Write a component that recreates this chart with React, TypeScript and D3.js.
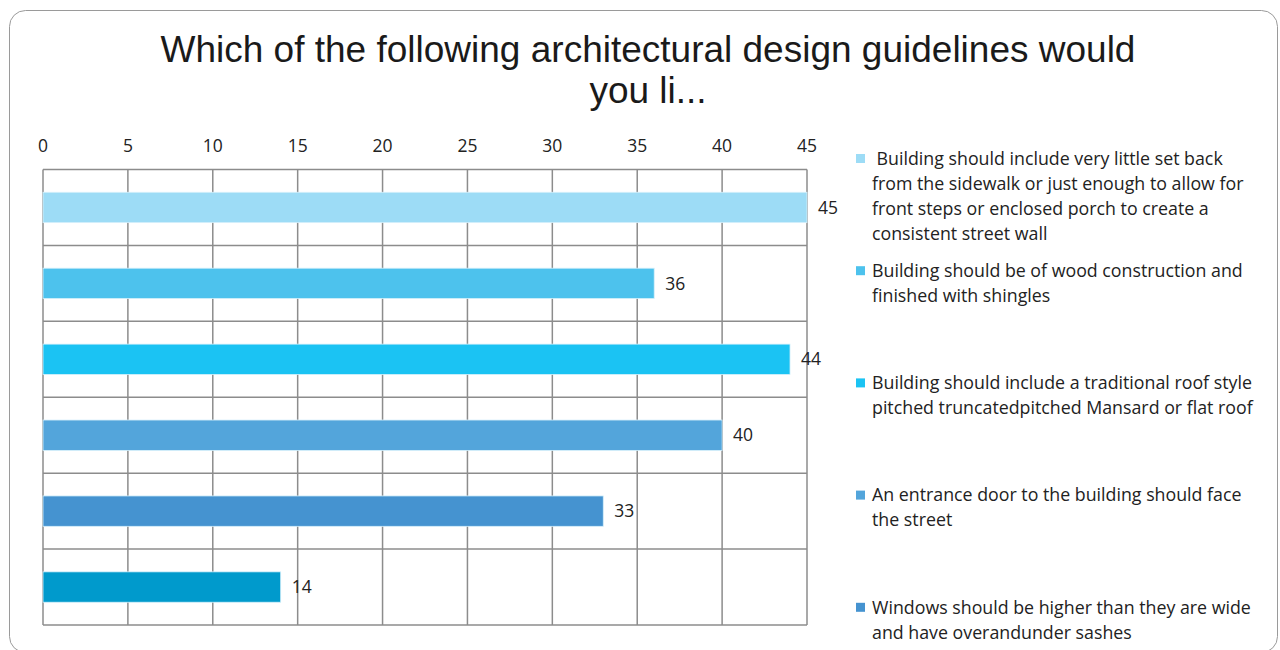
import { useEffect, useRef } from 'react';
import * as d3 from 'd3';

const titleLines = ['Which of the following architectural design guidelines would', 'you li...'];

const categories = [
  [' Building should include very little set back', 'from the sidewalk or just enough to allow for', 'front steps or enclosed porch to create a', 'consistent street wall'],
  ['Building should be of wood construction and', 'finished with shingles'],
  ['Building should include a traditional roof style', 'pitched truncatedpitched Mansard or flat roof'],
  ['An entrance door to the building should face', 'the street'],
  ['Windows should be higher than they are wide', 'and have overandunder sashes'],
  [''],
];
const values = [45, 36, 44, 40, 33, 14];
const colors = ['#9ddcf6', '#4dc2ed', '#1bc3f3', '#53a5db', '#4593d0', '#009acc'];
const xTicks = [0, 5, 10, 15, 20, 25, 30, 35, 40, 45];

function App() {
  const svgRef = useRef(null);

  useEffect(() => {
    const width = 1280;
    const height = 650;
    const margin = { top: 169.5, left: 43, right: 473, bottom: 25 };

    d3.select(svgRef.current).selectAll('*').remove();

    const svg = d3.select(svgRef.current)
      .attr('width', width)
      .attr('height', height);

    // Frame
    svg.append('rect')
      .attr('x', 9.5)
      .attr('y', 10.5)
      .attr('width', 1268)
      .attr('height', 642)
      .attr('rx', 16)
      .attr('fill', '#fff')
      .attr('stroke', '#9a9a9a')
      .attr('stroke-width', 1);

    // Title
    svg.append('g')
      .selectAll('text')
      .data(titleLines)
      .join('text')
      .attr('x', 648)
      .attr('y', (d, i) => 62 + i * 41)
      .attr('text-anchor', 'middle')
      .style('font-family', '"Liberation Sans", Arial, sans-serif')
      .style('font-size', '37px')
      .attr('fill', '#1a1a1a')
      .text(d => d);

    const x = d3.scaleLinear()
      .domain([0, 45])
      .range([margin.left, width - margin.right]);

    const idx = values.map((_, i) => i);
    const y = d3.scaleBand()
      .domain(idx)
      .range([margin.top, height - margin.bottom])
      .paddingInner(0.6)
      .paddingOuter(0.3);

    const plotTop = margin.top;
    const plotBottom = height - margin.bottom;
    const gridColor = '#8c8c8c';

    // Vertical grid
    svg.append('g')
      .selectAll('line')
      .data(xTicks)
      .join('line')
      .attr('x1', d => x(d))
      .attr('x2', d => x(d))
      .attr('y1', plotTop)
      .attr('y2', plotBottom)
      .attr('stroke', gridColor)
      .attr('stroke-width', 1.5);

    // Horizontal grid (band edges)
    const step = y.step();
    const edges = d3.range(values.length + 1).map(i => plotTop + i * step);
    svg.append('g')
      .selectAll('line')
      .data(edges)
      .join('line')
      .attr('x1', x(0))
      .attr('x2', x(45))
      .attr('y1', d => d)
      .attr('y2', d => d)
      .attr('stroke', gridColor)
      .attr('stroke-width', 1.5);

    // Tick labels
    svg.append('g')
      .selectAll('text')
      .data(xTicks)
      .join('text')
      .attr('x', d => x(d))
      .attr('y', 152)
      .attr('text-anchor', 'middle')
      .style('font-family', '"Open Sans", sans-serif')
      .style('font-size', '17.5px')
      .attr('fill', '#222')
      .text(d => d);

    // Bars
    svg.append('g')
      .selectAll('rect')
      .data(values)
      .join('rect')
      .attr('x', x(0))
      .attr('y', (d, i) => y(i))
      .attr('width', d => x(d) - x(0))
      .attr('height', y.bandwidth())
      .attr('fill', (d, i) => colors[i])
      .attr('stroke', '#d6f0fb')
      .attr('stroke-width', 0.8);

    // Value labels
    svg.append('g')
      .selectAll('text')
      .data(values)
      .join('text')
      .attr('x', d => x(d) + 11)
      .attr('y', (d, i) => y(i) + y.bandwidth() / 2)
      .attr('dy', '0.35em')
      .style('font-family', '"Open Sans", sans-serif')
      .style('font-size', '17.5px')
      .attr('fill', '#222')
      .text(d => d);

    // Legend
    const legend = svg.append('g');
    const items = legend.selectAll('g')
      .data(categories)
      .join('g')
      .attr('transform', (d, i) => `translate(856,${158.5 + i * 112.2})`);

    items.append('rect')
      .attr('x', 0)
      .attr('y', -4.5)
      .attr('width', 9)
      .attr('height', 9)
      .attr('fill', (d, i) => colors[i]);

    items.each(function (lines) {
      d3.select(this)
        .selectAll('text')
        .data(lines)
        .join('text')
        .attr('x', 16)
        .attr('y', (d, j) => j * 25)
        .attr('dy', '0.35em')
        .style('font-family', '"Open Sans", sans-serif')
        .style('font-size', '17.8px')
        .style('white-space', 'pre')
        .attr('fill', '#222')
        .text(d => d);
    });
  }, []);

  return (
    <div style={{ position: 'absolute', left: 0, top: 0 }}>
      <svg ref={svgRef} style={{ display: 'block' }}></svg>
    </div>
  );
}

export default App;
